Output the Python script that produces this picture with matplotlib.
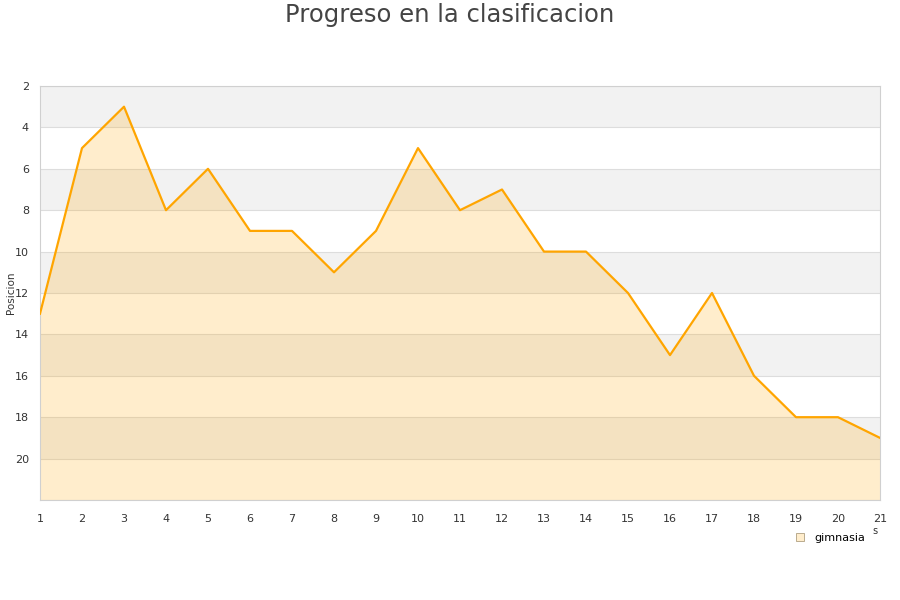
import matplotlib
matplotlib.use("Agg")
import matplotlib.pyplot as plt
from matplotlib.lines import Line2D

jornadas = list(range(1, 22))
posicion = [13, 5, 3, 8, 6, 9, 9, 11, 9, 5, 8, 7, 10, 10, 12, 15, 12, 16, 18, 18, 19]
yticks = [2, 4, 6, 8, 10, 12, 14, 16, 18, 20]
serie = "gimnasia"
titulo = "Progreso en la clasificacion"

fig = plt.figure(figsize=(9, 6), dpi=100)
ax = fig.add_axes([40/900, 1-500/600, 840/900, 414/600])

ax.set_xlim(1, 21)
ax.set_ylim(22, 2)

# alternating bands
for lo in range(2, 22, 4):
    ax.axhspan(lo, lo + 2, color="#F2F2F2", zorder=0, lw=0)
for y in range(2, 23, 2):
    ax.axhline(y, color="#DDDDDD", lw=0.8, zorder=1)

ax.fill_between(jornadas, posicion, 22, color="#FFA500", alpha=0.2, lw=0, zorder=2)
ax.plot(jornadas, posicion, color="#FFA500", lw=1.6, zorder=3)

ax.set_xticks(jornadas)
ax.set_yticks(yticks)
ax.tick_params(length=0, labelsize=8, colors="#333333", pad=8)
ax.tick_params(axis="x", pad=10)
for s in ax.spines.values():
    s.set_color("#D0D0D0")
    s.set_linewidth(0.8)

fig.text(11/900, 1-293/600, "Posicion", rotation=90, ha="center", va="center",
         fontsize=7.5, color="#333333")
fig.text(0.5, 1-15/600, titulo, ha="center", va="center", fontsize=17.5, color="#444444")
fig.text(875/900, 1-531/600, "s", ha="center", va="center", fontsize=7, color="#333333")

handle = Line2D([], [], marker="s", ls="", markersize=6,
                markerfacecolor="#FFEDCC", markeredgecolor="#B0A080", markeredgewidth=0.6)
fig.legend([handle], [serie], loc="center left", bbox_to_anchor=(784/900, 1-538/600),
           frameon=False, fontsize=8, handletextpad=0.3, borderaxespad=0)

fig.savefig("out.png", dpi=100)
